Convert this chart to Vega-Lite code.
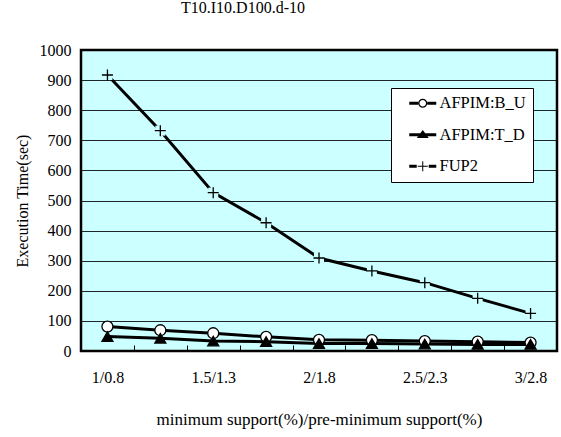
{
  "$schema": "https://vega.github.io/schema/vega-lite/v6.json",
  "width": 476,
  "height": 301,
  "autosize": "none",
  "padding": {"left": 81, "top": 50, "right": 4, "bottom": 86},
  "background": "white",
  "config": {
    "font": "Liberation Serif",
    "view": {"fill": "#ccffff", "stroke": "black", "strokeWidth": 2.5},
    "axis": {"labelFont": "Liberation Serif", "titleFont": "Liberation Serif"},
    "legend": {"labelFont": "Liberation Serif"}
  },
  "title": {"text": "T10.I10.D100.d-10", "fontSize": 16, "fontWeight": "normal", "font": "Liberation Serif", "color": "black", "dx": -76, "offset": 26},
  "data": {
    "values": [
      {"step": 1, "series": "AFPIM:B_U", "time": 81},
      {"step": 2, "series": "AFPIM:B_U", "time": 69},
      {"step": 3, "series": "AFPIM:B_U", "time": 59},
      {"step": 4, "series": "AFPIM:B_U", "time": 47},
      {"step": 5, "series": "AFPIM:B_U", "time": 37},
      {"step": 6, "series": "AFPIM:B_U", "time": 36},
      {"step": 7, "series": "AFPIM:B_U", "time": 33},
      {"step": 8, "series": "AFPIM:B_U", "time": 31},
      {"step": 9, "series": "AFPIM:B_U", "time": 28},
      {"step": 1, "series": "AFPIM:T_D", "time": 48},
      {"step": 2, "series": "AFPIM:T_D", "time": 42},
      {"step": 3, "series": "AFPIM:T_D", "time": 33},
      {"step": 4, "series": "AFPIM:T_D", "time": 31},
      {"step": 5, "series": "AFPIM:T_D", "time": 25},
      {"step": 6, "series": "AFPIM:T_D", "time": 25},
      {"step": 7, "series": "AFPIM:T_D", "time": 23},
      {"step": 8, "series": "AFPIM:T_D", "time": 22},
      {"step": 9, "series": "AFPIM:T_D", "time": 22},
      {"step": 1, "series": "FUP2", "time": 917},
      {"step": 2, "series": "FUP2", "time": 732},
      {"step": 3, "series": "FUP2", "time": 526},
      {"step": 4, "series": "FUP2", "time": 426},
      {"step": 5, "series": "FUP2", "time": 309},
      {"step": 6, "series": "FUP2", "time": 266},
      {"step": 7, "series": "FUP2", "time": 227},
      {"step": 8, "series": "FUP2", "time": 175},
      {"step": 9, "series": "FUP2", "time": 125}
    ]
  },
  "encoding": {
    "x": {
      "field": "step", "type": "quantitative",
      "scale": {"domain": [0.5, 9.5], "nice": false, "zero": false},
      "axis": {
        "orient": "bottom",
        "values": [1, 1.5, 2, 2.5, 3, 3.5, 4, 4.5, 5, 5.5, 6, 6.5, 7, 7.5, 8, 8.5, 9],
        "labelExpr": "datum.value == 1 ? '1/0.8' : datum.value == 3 ? '1.5/1.3' : datum.value == 5 ? '2/1.8' : datum.value == 7 ? '2.5/2.3' : datum.value == 9 ? '3/2.8' : ''",
        "labelOverlap": false, "labelBound": false, "labelFlush": false,
        "ticks": true, "tickSize": -6, "tickWidth": 1,
        "tickColor": {"condition": {"test": "datum.value % 1 === 0", "value": "transparent"}, "value": "black"},
        "domain": false, "grid": false,
        "labelPadding": 24, "labelFontSize": 16, "labelColor": "black",
        "title": "minimum support(%)/pre-minimum support(%)",
        "titleFontSize": 17, "titleFontWeight": "normal", "titleColor": "black", "titlePadding": 26
      }
    },
    "y": {
      "field": "time", "type": "quantitative",
      "scale": {"domain": [0, 1000], "nice": false},
      "axis": {
        "values": [0, 100, 200, 300, 400, 500, 600, 700, 800, 900, 1000],
        "format": "d",
        "grid": true, "gridColor": "black", "gridWidth": 1, "gridOpacity": 0.85,
        "ticks": false, "domain": false,
        "labelPadding": 10, "labelFontSize": 16, "labelColor": "black",
        "title": "Execution Time(sec)", "titleFontSize": 16, "titleFontWeight": "normal", "titleColor": "black", "titlePadding": 9
      }
    }
  },
  "layer": [
    {
      "mark": {"type": "line", "color": "black", "strokeWidth": 3},
      "encoding": {
        "detail": {"field": "series", "type": "nominal"}
      }
    },
    {
      "transform": [{"filter": "datum.series === 'FUP2'"}],
      "mark": {"type": "point", "shape": "square", "filled": true, "fill": "#ccffff", "size": 100, "strokeWidth": 0, "opacity": 1}
    },
    {
      "mark": {"type": "point", "filled": true, "stroke": "black", "strokeWidth": 1.3, "opacity": 1, "size": 121},
      "encoding": {
        "shape": {
          "field": "series", "type": "nominal",
          "scale": {"domain": ["AFPIM:B_U", "AFPIM:T_D", "FUP2"], "range": ["circle", "triangle-up", "M-1,0H1M0,-1V1"]},
          "legend": null
        },
        "fill": {
          "field": "series", "type": "nominal",
          "scale": {"domain": ["AFPIM:B_U", "AFPIM:T_D", "FUP2"], "range": ["white", "black", "transparent"]},
          "legend": null
        }
      }
    },
    {
      "transform": [{"filter": "datum.time < 0"}],
      "mark": {"type": "point", "filled": true, "fill": "black", "strokeWidth": 0, "opacity": 1, "size": 256},
      "encoding": {
        "shape": {
          "field": "series", "type": "nominal",
          "scale": {
            "domain": ["AFPIM:B_U", "AFPIM:T_D", "FUP2"],
            "range": [
              "M0.375,-0.1875H1.5V0.1875H0.375Z M2.625,-0.1875H3.75V0.1875H2.625Z M2.625,0A0.5625,0.5625 0 1,0 1.5,0A0.5625,0.5625 0 1,0 2.625,0Z M2.4725,0A0.41,0.41 0 1,1 1.6525,0A0.41,0.41 0 1,1 2.4725,0Z",
              "M0.375,-0.1875H3.75V0.1875H0.375Z M2.0625,-0.6L2.8125,0.4H1.3125Z",
              "M0.375,-0.1875H1.3125V0.1875H0.375Z M2.8125,-0.1875H3.75V0.1875H2.8125Z M1.4375,-0.0625H2.6875V0.0625H1.4375Z M2,-0.625H2.125V0.625H2Z"
            ]
          },
          "legend": {
            "orient": "none", "legendX": 310, "legendY": 38, "title": null,
            "fillColor": "white", "strokeColor": "black", "padding": 7,
            "symbolSize": 256, "symbolFillColor": "black", "symbolStrokeWidth": 0,
            "labelOffset": 25, "rowPadding": 14.5,
            "labelFontSize": 16.5, "labelFont": "Liberation Serif", "labelColor": "black"
          }
        }
      }
    }
  ],
  "resolve": {"scale": {"shape": "independent"}, "legend": {"shape": "independent"}}
}
